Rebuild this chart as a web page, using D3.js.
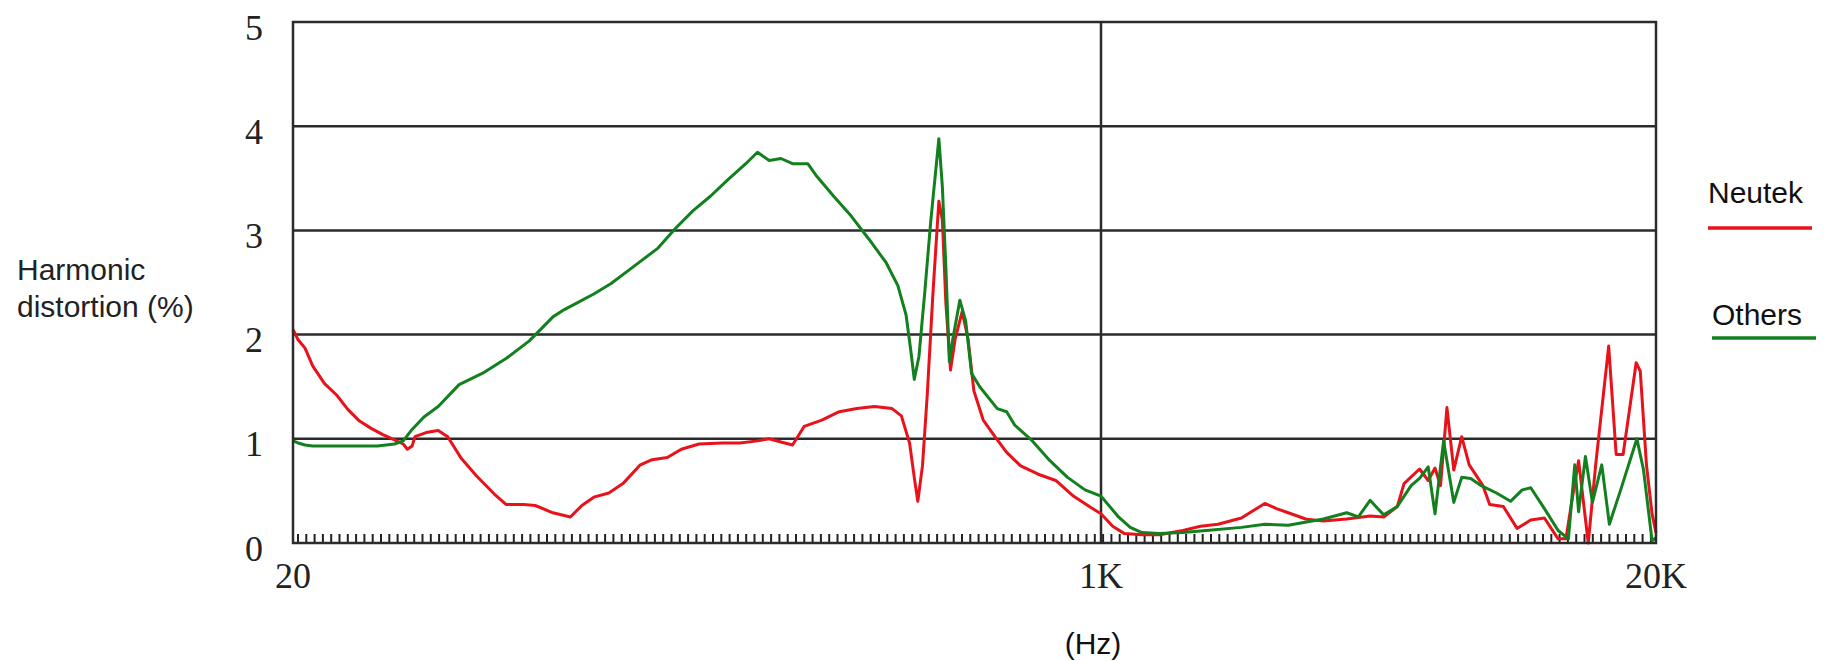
<!DOCTYPE html>
<html>
<head>
<meta charset="utf-8">
<script src="https://cdn.jsdelivr.net/npm/d3@7"></script>
<style>
  body { margin: 0; background: #fff; }
  svg { display: block; }
</style>
</head>
<body>
<div id="chart"></div>
<script>
// tick values and labels
const xTicks = [20, 1000, 20000];
const xTickLabels = ['20', '1K', '20K'];
const yTicks = [0, 1, 2, 3, 4, 5];
const seriesNames = ['Neutek', 'Others'];

// [frequency Hz, harmonic distortion %]
const neutek = [
  [20, 2.05], [20.5, 1.95], [21.2, 1.87], [22.0, 1.70], [23.3, 1.53], [24.7, 1.42], [26.1, 1.28],
  [27.6, 1.17], [29.2, 1.10], [30.9, 1.04], [32.7, 0.99], [34.1, 0.95], [34.8, 0.90], [35.6, 0.93],
  [36.1, 1.02], [38.1, 1.06], [40.4, 1.08], [42.3, 1.02], [45.2, 0.81], [48.7, 0.64], [53.0, 0.47],
  [56.1, 0.37], [61.1, 0.37], [64.6, 0.36], [70.4, 0.29], [76.6, 0.25], [81.0, 0.36], [85.8, 0.44],
  [92.3, 0.48], [98.8, 0.57], [107.5, 0.75], [113.8, 0.80], [122.5, 0.82], [131.1, 0.90], [142.8, 0.95],
  [159.9, 0.96], [174.1, 0.96], [189.5, 0.98], [200.6, 1.00], [212.3, 0.97], [224.6, 0.94], [237.7, 1.12],
  [258.8, 1.18], [281.7, 1.26], [306.7, 1.29], [333.9, 1.31], [363.6, 1.29], [380.4, 1.22], [395.8, 0.96],
  [404.9, 0.63], [411.9, 0.40], [421.3, 0.74], [431.0, 1.41], [443.4, 2.41], [456.1, 3.28], [463.9, 3.10],
  [471.9, 2.30], [482.6, 1.66], [493.6, 1.96], [510.6, 2.22], [525.3, 1.96], [540.4, 1.46], [565.4, 1.18],
  [598.4, 1.02], [633.3, 0.87], [677.8, 0.74], [737.9, 0.66], [803.4, 0.60], [874.8, 0.45], [952.1, 0.34],
  [1000, 0.28], [1065, 0.16], [1135, 0.09], [1247, 0.08], [1371, 0.08], [1556, 0.12], [1711, 0.16],
  [1881, 0.18], [2134, 0.24], [2421, 0.38], [2579, 0.33], [2747, 0.29], [3020, 0.23], [3320, 0.21],
  [3767, 0.23], [4274, 0.26], [4599, 0.25], [4951, 0.35], [5133, 0.57], [5581, 0.71], [5849, 0.60],
  [6067, 0.72], [6250, 0.55], [6471, 1.30], [6714, 0.70], [7008, 1.02], [7297, 0.75], [7858, 0.55],
  [8150, 0.37], [8774, 0.35], [9448, 0.14], [10172, 0.22], [10951, 0.24], [11792, 0.04], [12300, 0.04],
  [12696, 0.40], [13170, 0.79], [13874, 0.00], [14441, 0.75], [15492, 1.89], [16130, 0.85], [16745, 0.85],
  [17970, 1.73], [18372, 1.65], [18997, 0.75], [19580, 0.28], [20000, 0.10]
];

const others = [
  [20, 0.98], [20.5, 0.96], [21.2, 0.94], [22.0, 0.93], [25.4, 0.93], [30.1, 0.93], [32.7, 0.95],
  [34.1, 0.98], [35.6, 1.09], [37.7, 1.21], [40.4, 1.31], [44.7, 1.52], [50.1, 1.63], [56.1, 1.77],
  [62.8, 1.94], [70.4, 2.17], [74.4, 2.24], [78.8, 2.30], [85.8, 2.39], [93.3, 2.49], [104.5, 2.66],
  [117.1, 2.83], [127.5, 3.02], [138.8, 3.19], [151.1, 3.33], [164.5, 3.49], [179.1, 3.64], [189.5, 3.75],
  [200.6, 3.67], [212.3, 3.69], [224.6, 3.64], [241.8, 3.64], [251.5, 3.53], [273.8, 3.33], [298.1, 3.14],
  [324.6, 2.92], [353.4, 2.69], [374.0, 2.47], [389.1, 2.19], [398.1, 1.85], [404.9, 1.57], [414.2, 1.79],
  [426.1, 2.41], [438.4, 3.08], [456.1, 3.88], [463.9, 3.42], [471.9, 2.64], [479.9, 1.74], [488.1, 1.96],
  [504.9, 2.33], [519.4, 2.13], [534.3, 1.63], [555.9, 1.50], [605.2, 1.29], [633.3, 1.26], [658.9, 1.13],
  [717.3, 0.98], [780.9, 0.79], [850.4, 0.63], [925.6, 0.51], [1000, 0.45], [1099, 0.25], [1171, 0.15],
  [1247, 0.10], [1371, 0.09], [1556, 0.10], [1766, 0.12], [2134, 0.15], [2421, 0.18], [2747, 0.17],
  [3320, 0.23], [3767, 0.29], [4012, 0.25], [4273, 0.41], [4599, 0.27], [4951, 0.35], [5332, 0.55],
  [5581, 0.62], [5849, 0.73], [6067, 0.28], [6355, 0.98], [6714, 0.39], [7008, 0.63], [7357, 0.62],
  [7787, 0.55], [8453, 0.48], [9120, 0.40], [9714, 0.51], [10172, 0.53], [10951, 0.33], [11792, 0.12],
  [12466, 0.04], [12900, 0.75], [13170, 0.30], [13665, 0.83], [14190, 0.39], [14925, 0.75], [15550, 0.18],
  [16500, 0.50], [18040, 1.00], [18700, 0.70], [19580, 0.02], [20000, 0.05]
];

const colors = ['#e8121b', '#12801e'];

const margin = {top: 22, right: 180, bottom: 118, left: 293};
const width = 1836 - margin.left - margin.right;
const height = 661 - margin.top - margin.bottom;

const svg = d3.select('#chart').append('svg')
    .attr('width', 1836)
    .attr('height', 661);

const g = svg.append('g')
    .attr('transform', `translate(${margin.left},${margin.top})`);

// frequency axis is log, but 1K sits further right than a plain 20..20K log
const x = d3.scaleLog()
    .domain([20, 1000, 20000])
    .range([0, 808, width]);

const y = d3.scaleLinear()
    .domain([0, 5])
    .range([height, 0]);

// grid
g.selectAll('.hgrid')
    .data(yTicks.slice(1, -1))
    .enter().append('line')
    .attr('x1', 0).attr('x2', width)
    .attr('y1', d => y(d)).attr('y2', d => y(d))
    .attr('stroke', '#2b2b2b')
    .attr('stroke-width', 2.5);

g.append('line')
    .attr('x1', x(1000)).attr('x2', x(1000))
    .attr('y1', 0).attr('y2', height)
    .attr('stroke', '#2b2b2b')
    .attr('stroke-width', 2.5);

// the little hatch along the bottom
g.selectAll('.hatch')
    .data(d3.range(5, width - 2, 8.3))
    .enter().append('line')
    .attr('x1', d => d).attr('x2', d => d)
    .attr('y1', height).attr('y2', height - 9)
    .attr('stroke', '#222')
    .attr('stroke-width', 2);

// curves
const line = d3.line()
    .x(d => x(d[0]))
    .y(d => y(d[1]));

[neutek, others].forEach((s, i) => {
  g.append('path')
      .datum(s)
      .attr('fill', 'none')
      .attr('stroke', colors[i])
      .attr('stroke-width', 3)
      .attr('stroke-linejoin', 'round')
      .attr('d', line);
});

// frame
g.append('rect')
    .attr('width', width)
    .attr('height', height)
    .attr('fill', 'none')
    .attr('stroke', '#2b2b2b')
    .attr('stroke-width', 2.5);

// tick labels
g.selectAll('.ylab')
    .data(yTicks)
    .enter().append('text')
    .attr('x', -39)
    .attr('y', d => y(d) + 5)
    .attr('dy', '0.35em')
    .attr('text-anchor', 'middle')
    .attr('font-family', 'Liberation Serif, serif')
    .attr('font-size', 36)
    .attr('fill', '#222')
    .text(d => d);

g.selectAll('.xlab')
    .data(xTicks)
    .enter().append('text')
    .attr('x', d => x(d))
    .attr('y', height + 32)
    .attr('dy', '0.35em')
    .attr('text-anchor', 'middle')
    .attr('font-family', 'Liberation Serif, serif')
    .attr('font-size', 36)
    .attr('fill', '#222')
    .text((d, i) => xTickLabels[i]);

// axis titles
g.append('text')
    .attr('x', x(1000) - 8)
    .attr('y', height + 100)
    .attr('dy', '0.35em')
    .attr('text-anchor', 'middle')
    .attr('font-family', 'Liberation Sans, Arial, sans-serif')
    .attr('font-size', 30)
    .attr('fill', '#111')
    .text('(Hz)');

const yTitle = svg.append('text')
    .attr('font-family', 'Liberation Sans, Arial, sans-serif')
    .attr('font-size', 30)
    .attr('fill', '#222');
yTitle.append('tspan').attr('x', 17).attr('y', 280).text('Harmonic');
yTitle.append('tspan').attr('x', 17).attr('y', 317).text('distortion (%)');

// legend
const legend = svg.append('g')
    .attr('transform', 'translate(1708,0)');

const legendItems = legend.selectAll('.item')
    .data(seriesNames)
    .enter().append('g')
    .attr('transform', (d, i) => `translate(${i * 4},${i * 122})`);

legendItems.append('text')
    .attr('y', 203)
    .attr('font-family', 'Liberation Sans, Arial, sans-serif')
    .attr('font-size', 30)
    .attr('fill', '#111')
    .text(d => d);

legendItems.append('line')
    .attr('x1', 0).attr('x2', 104)
    .attr('y1', (d, i) => 228 - i * 12).attr('y2', (d, i) => 228 - i * 12)
    .attr('stroke', (d, i) => colors[i])
    .attr('stroke-width', 3.5);
</script>
</body>
</html>
